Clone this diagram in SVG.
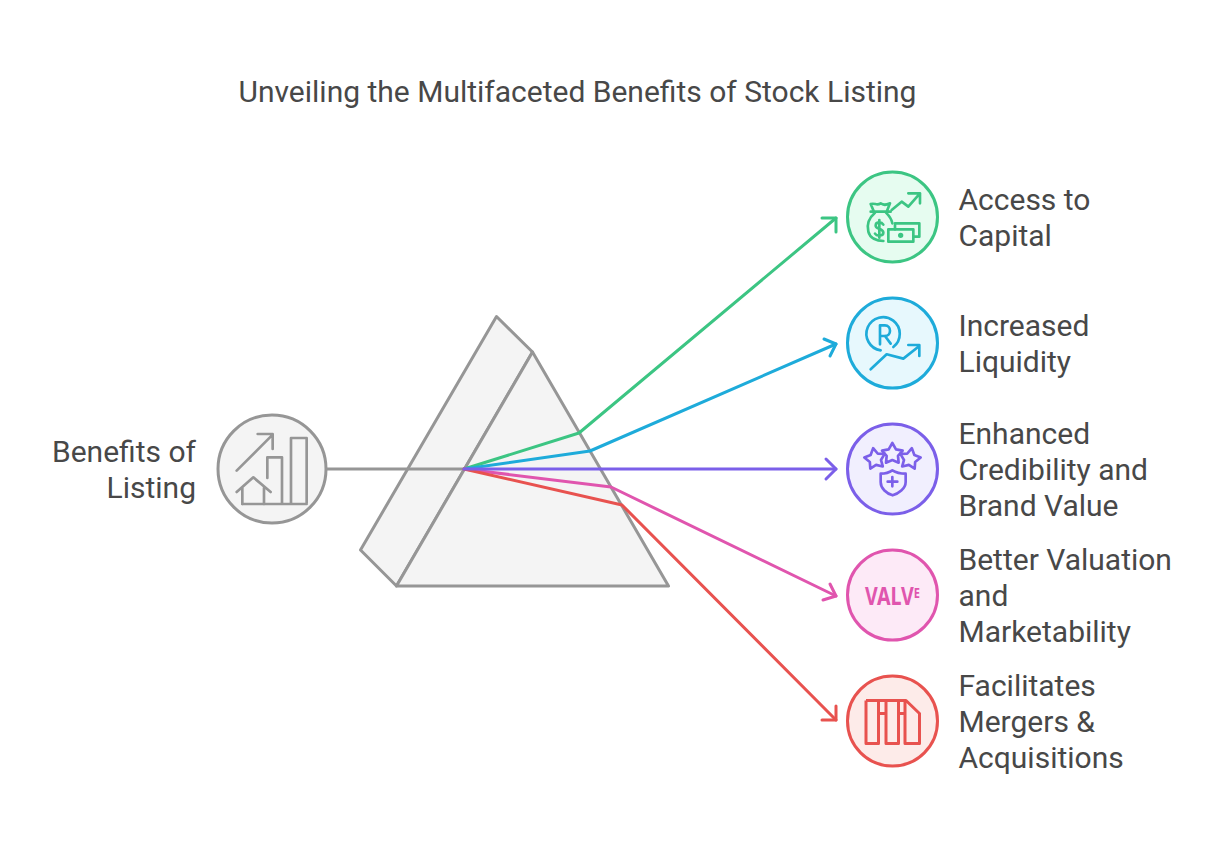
<svg xmlns="http://www.w3.org/2000/svg" width="1227" height="849" viewBox="0 0 1227 849">
<style>
text{font-family:Roboto,"Liberation Sans",sans-serif;font-size:30px;fill:#484848}
.c{stroke-width:3;fill:none;stroke-linecap:round;stroke-linejoin:round}
.n{stroke-width:3}
.i{fill:none;stroke-width:8;stroke-linecap:round;stroke-linejoin:round}
.v{font-family:"Noto Sans","Liberation Sans",sans-serif;font-size:25px;font-weight:700;fill:#e055ae}
.gray{stroke:#969696}.green{stroke:#3cc583}.blue{stroke:#1eabda}.purple{stroke:#7b5fe9}.pink{stroke:#e055ae}.red{stroke:#e8524f}
</style>
<defs>
<path id="star" d="M0,-32 L11,-13 L31,-9 L17,7 L19,27 L0,19 L-19,27 L-17,7 L-31,-9 L-11,-13 Z"/>
</defs>
<rect width="1227" height="849" fill="#fff"/>
<text id="title" x="238.500" y="102">Unveiling the Multifaceted Benefits of Stock Listing</text>
<g id="prism" fill="#f4f4f4" stroke="#969696" stroke-width="3" stroke-linejoin="round">
<path d="M496.500,316.500 L532.500,352 L396.500,586 L360.500,550 Z"/>
<path d="M532.500,352 L668.500,586 L396.500,586 Z"/>
</g>
<g id="connectors">
<path class="c gray" d="M326,469 H464"/>
<path class="c green" d="M464,469 L579,433 L836,218"/>
<path class="c blue" d="M464,469 L590,451 L836,344"/>
<path class="c pink" d="M464,469 L611,487 L836,596"/>
<path class="c red" d="M464,469 L622,505 L836,720"/>
<path class="c purple" d="M464,469 H836"/>
<path class="c green" d="M822,218 L836,218 L836,232"/>
<path class="c blue" d="M824,339 L836,344 L830,356"/>
<path class="c purple" d="M826,459 L836,469 L826,479"/>
<path class="c pink" d="M830,584 L836,596 L823,600"/>
<path class="c red" d="M836,706 L836,720 L822,720"/>
</g>
<g id="node-source">
<circle cx="272" cy="469" r="54" fill="#f4f4f4" class="n gray"/>
<g transform="translate(210,408) scale(0.3333)" class="i gray">
<path d="M80,188 L188,80 M143,78 H188 V123"/>
<path d="M172,210 V148 H216 V285 M243,285 V90 H290 V285 M97,288 H290"/>
<path d="M80,252 L130,208 L182,252 M97,240 V288 M162,240 V288"/>
</g>
<text text-anchor="end" x="196" y="462">Benefits of</text>
<text text-anchor="end" x="196" y="498">Listing</text>
</g>
<g id="node-capital">
<circle cx="892.500" cy="217" r="45" fill="#e6fcf0" class="n green"/>
<g transform="translate(860,190) scale(0.3333)" class="i green">
<path d="M95,60 L125,35 L145,50 L180,10 M145,10 H180 V40"/>
<path d="M32,42 C45,38 50,48 62,40 C72,48 80,44 90,40 L80,65 H42 Z M32,65 H92"/>
<path d="M45,68 C25,85 20,105 25,125 C30,145 50,153 70,153 M78,68 C88,78 95,88 97,100"/>
<path d="M70,104 C64,94 47,95 47,107 C47,119 70,114 70,128 C70,139 50,139 45,131 M58,90 V143"/>
<rect x="85" y="118" width="75" height="37"/>
<path d="M105,118 V100 H178 V140 H160"/>
<circle cx="122" cy="136" r="4"/>
</g>
<text x="958.500" y="210">Access to</text>
<text x="958.500" y="246">Capital</text>
</g>
<g id="node-liquidity">
<circle cx="892.500" cy="343" r="45" fill="#e7f8fd" class="n blue"/>
<g transform="translate(840,291) scale(0.3333)" class="i blue">
<path d="M122,178 A50,50 0 1 1 160,168"/>
<path d="M120,160 V103 H135 C155,103 155,135 135,135 H120 M135,135 L152,158"/>
<path d="M92,235 L140,190 L190,203 L238,165 M205,162 H238 V195"/>
</g>
<text x="958.500" y="336">Increased</text>
<text x="958.500" y="372">Liquidity</text>
</g>
<g id="node-credibility">
<circle cx="892.500" cy="469" r="45" fill="#f1effe" class="n purple"/>
<g transform="translate(840,417) scale(0.3333)" class="i purple">
<use href="#star" transform="translate(157,110)"/>
<use href="#star" transform="translate(105,125) rotate(-10)"/>
<use href="#star" transform="translate(210,125) rotate(10)"/>
<path d="M122,170 C140,170 150,165 157,160 C165,165 178,170 197,170 V195 C197,215 175,230 158,235 C140,230 122,215 122,195 Z"/>
<path d="M157,180 V208 M143,194 H172"/>
</g>
<text x="958.500" y="444">Enhanced</text>
<text x="958.500" y="480">Credibility and</text>
<text x="958.500" y="516">Brand Value</text>
</g>
<g id="node-valuation">
<circle cx="892.500" cy="595" r="45" fill="#fdeaf7" class="n pink"/>
<text class="v" x="865" y="605" textLength="55" lengthAdjust="spacingAndGlyphs">VALV<tspan dy="-7" style="font-size:14px">E</tspan></text>
<text x="958.500" y="570">Better Valuation</text>
<text x="958.500" y="606">and</text>
<text x="958.500" y="642">Marketability</text>
</g>
<g id="node-mergers">
<circle cx="892.500" cy="721" r="45" fill="#fdebe9" class="n red"/>
<g id="icon-mergers" fill="none" stroke="#e8524f" stroke-width="3" stroke-linejoin="round">
<path d="M866,700.500 H906 L919.500,713.500 V743.500 H905 V700.500 M866,700.500 V743.500 H878.500 V700.500 M886,700.500 V743.500 H898.500 V700.500"/>
<path d="M878.500,713.500 H886 M898.500,713.500 H905"/>
</g>
<text x="958.500" y="696">Facilitates</text>
<text x="958.500" y="732">Mergers &amp;</text>
<text x="958.500" y="768">Acquisitions</text>
</g>
</svg>
